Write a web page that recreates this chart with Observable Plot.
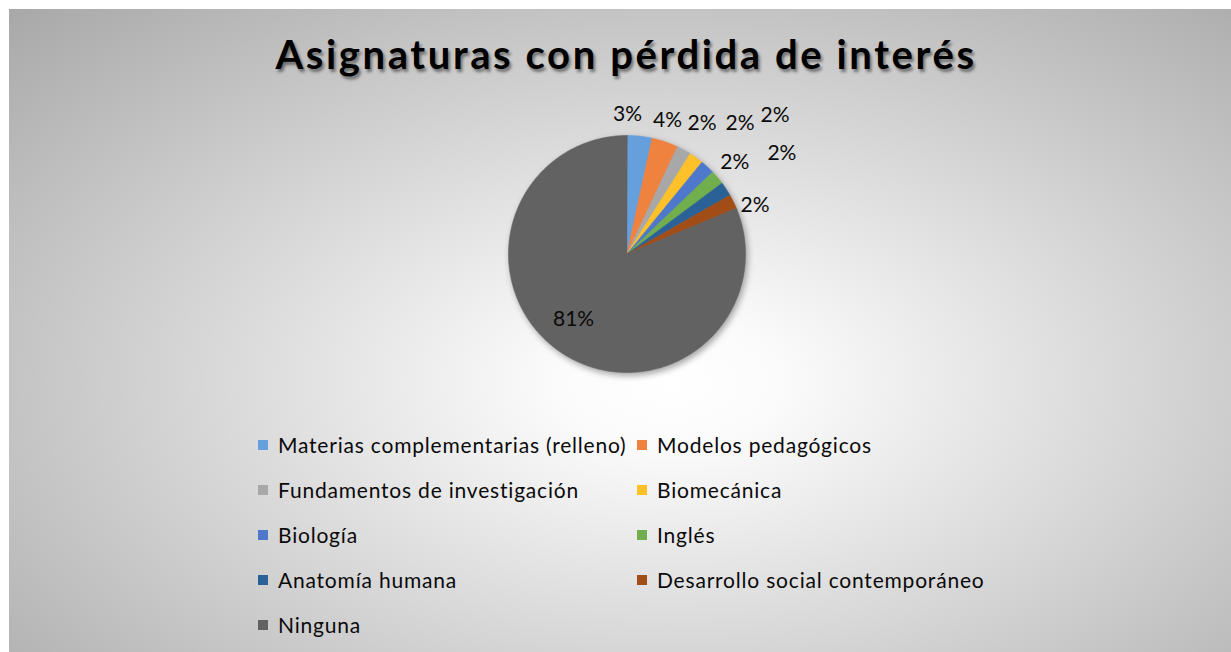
<!DOCTYPE html>
<html>
<head>
<meta charset="utf-8">
<script src="https://cdn.jsdelivr.net/npm/d3@7"></script>
<script src="https://cdn.jsdelivr.net/npm/@observablehq/plot@0.6"></script>
<style>
  html, body { margin: 0; padding: 0; background: #ffffff; }
  #frame {
    position: absolute; left: 9px; top: 9px; width: 1222px; height: 643px; overflow: hidden;
    background: radial-gradient(ellipse farthest-corner at 54% 58%, #ffffff 0%, #fbfbfb 12%, #a8a8a8 100%);
    font-family: Lato, "Open Sans", sans-serif;
  }
  #title {
    position: absolute; left: 6px; top: 25px; width: 100%; text-align: center;
    font-family: Lato, sans-serif; font-weight: 700; font-size: 40px; line-height: 40px;
    color: #000; letter-spacing: 2.6px; white-space: nowrap;
    text-shadow: 2px 3px 3px rgba(0,0,0,0.45);
  }
  #chart { position: absolute; left: 0; top: 80px; }
  #legend {
    position: absolute; left: 249px; top: 413px;
    display: grid; grid-template-columns: 379px auto; grid-auto-rows: 45px;
    font-family: Lato, sans-serif; font-size: 21px; letter-spacing: 0.8px; color: #0a0a0a;
  }
  .item { display: flex; align-items: center; white-space: nowrap; }
  .sw { width: 10px; height: 10px; margin-right: 10px; flex: none; }
</style>
</head>
<body>
<div id="frame">
  <div id="title"></div>
  <div id="chart"></div>
  <div id="legend"></div>
</div>
<script>
// ---- data ----
const chartTitle = "Asignaturas con pérdida de interés";
const categories = [
  "Materias complementarias (relleno)",
  "Modelos pedagógicos",
  "Fundamentos de investigación",
  "Biomecánica",
  "Biología",
  "Inglés",
  "Anatomía humana",
  "Desarrollo social contemporáneo",
  "Ninguna"
];
const values = [3.4, 3.6, 1.95, 1.95, 1.95, 1.95, 1.95, 1.95, 81.3]; // percent
const colors = ["#659fdc", "#f0823f", "#a8a8a8", "#ffc12a", "#4e78cc", "#71ae4d", "#2a6298", "#a24d17", "#626262"];

// ---- label layout (angle nudge in degrees, distance from centre in px) ----
const labelPlacement = [
  {da: -5.9, r: 139.5}, {da: -1.8, r: 139.5}, {da: 1.2, r: 150.5}, {da: 5.2, r: 172.6},
  {da: 4.2, r: 202.7}, {da: -0.2, r: 141.7}, {da: 0.2, r: 184.7}, {da: 5.4, r: 136.9},
  {da: 5.5, r: 84.6}
];

document.getElementById("title").textContent = chartTitle;

// ---- geometry ----
const R = 118.5;
const W = 1222, H = 330;
const cx = 617.5, cy = 164.5; // centre position inside the svg
const total = d3.sum(values);
const rad = a => a * Math.PI / 180;
let acc = 0;
const slices = categories.map((name, i) => {
  const a0 = acc / total * 360;
  acc += values[i];
  const a1 = acc / total * 360;
  return {name, value: values[i], a0, a1, mid: (a0 + a1) / 2, i};
});

const points = [];
for (const s of slices) {
  points.push({name: s.name, x: 0, y: 0});
  const n = Math.max(2, Math.ceil((s.a1 - s.a0) / 0.5));
  for (let k = 0; k <= n; k++) {
    const a = rad(s.a0 + (s.a1 - s.a0) * k / n);
    points.push({name: s.name, x: R * Math.sin(a), y: R * Math.cos(a)});
  }
}

const labels = slices.map(s => {
  const p = labelPlacement[s.i];
  const a = rad(s.mid + p.da);
  return {x: p.r * Math.sin(a), y: p.r * Math.cos(a), text: Math.round(s.value) + "%"};
});

const plot = Plot.plot({
  width: W, height: H, margin: 0,
  x: {domain: [-cx, W - cx], axis: null},
  y: {domain: [-(H - cy), cy], axis: null},
  color: {domain: categories, range: colors},
  style: {background: "transparent", overflow: "visible"},
  marks: [
    Plot.line(points, {x: "x", y: "y", z: "name", fill: "name", stroke: "name", strokeWidth: 0.6, curve: "linear-closed"}),
    Plot.text(labels, {x: "x", y: "y", text: "text", fontSize: 21, fill: "#0a0a0a", fontFamily: "Lato, sans-serif"})
  ]
});
document.getElementById("chart").appendChild(plot);
const g = plot.querySelector('g[aria-label="line"]');
if (g) g.style.filter = "drop-shadow(2px 3px 3px rgba(0,0,0,0.35))";

// ---- legend ----
const legend = document.getElementById("legend");
categories.forEach((c, i) => {
  const item = document.createElement("div");
  item.className = "item";
  const sw = document.createElement("span");
  sw.className = "sw";
  sw.style.background = colors[i];
  const t = document.createElement("span");
  t.textContent = c;
  item.appendChild(sw); item.appendChild(t);
  legend.appendChild(item);
});
</script>
</body>
</html>
